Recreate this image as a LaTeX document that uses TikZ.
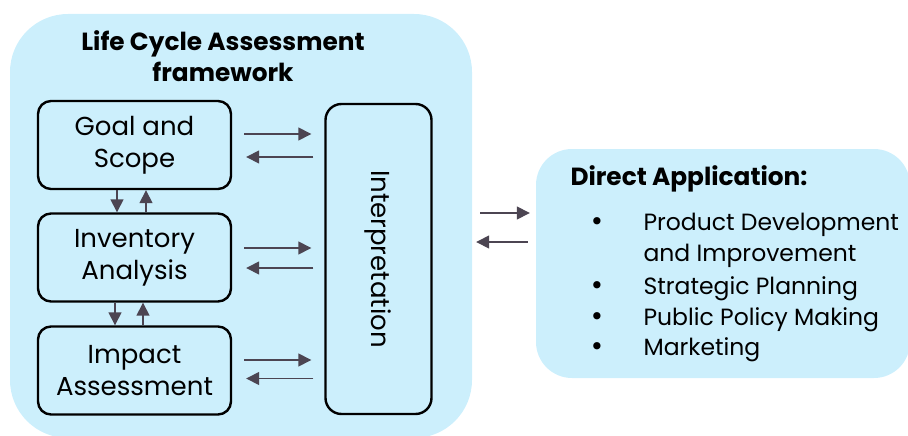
\documentclass[tikz,border=0pt]{standalone}
\usepackage{fontspec}
\setmainfont{Poppins}
\newfontfamily\dotfont{DejaVu Sans}
\usepackage{tikz}
\usetikzlibrary{arrows.meta}

\definecolor{lcablue}{RGB}{204,239,252}
\definecolor{flowgray}{RGB}{76,69,82}

\tikzset{
  panel/.style={fill=lcablue, rounded corners=58, inner sep=0},
  stagebox/.style={draw, line width=2.4, rounded corners=13, fill=lcablue, minimum width=193, minimum height=88, align=center, font=\fontsize{26}{32}\selectfont},
  flow/.style={-{Triangle[length=13,width=13]}, flowgray, line width=1.5},
  listtext/.style={anchor=base west, font=\fontsize{23.5}{28}\selectfont},
  dot/.style={anchor=base, inner sep=0, font=\dotfont\fontsize{25}{26}\selectfont},
}

\begin{document}
\begin{tikzpicture}[x=1pt, y=-1pt]
\useasboundingbox (0,0) rectangle (908,436);

% LCA framework panel
\node[panel, minimum width=462, minimum height=424] (lca) at (241,226) {};
\node[align=center, font=\fontsize{24.8}{31}\bfseries] (title) at (223,56) {Life Cycle Assessment\\framework};

% Stages
\node[stagebox] (goal) at (134.5,145) {Goal and\\Scope};
\node[stagebox] (inv) at (134.5,257.5) {Inventory\\Analysis};
\node[stagebox] (imp) at (134.5,370.5) {Impact\\Assessment};

% Interpretation
\node[draw, line width=2.4, rounded corners=16, fill=lcablue, minimum width=106, minimum height=310] (interp) at (378.5,259) {};
\node[rotate=-90, font=\fontsize{26}{28}\selectfont] (interplabel) at (interp.center) {Interpretation};

% Stage <-> interpretation arrows
\foreach \s/\up/\dn in {goal/11/-12, inv/9.5/-10.5, imp/10.5/-8} {
    \draw[flow, shorten <=12, shorten >=13] ([yshift=\up]\s.east) -- ([yshift=\up]\s.east -| interp.west);
    \draw[flow, shorten <=11, shorten >=14] ([yshift=\dn]\s.east -| interp.west) -- ([yshift=\dn]\s.east);
}

% Stage <-> stage arrows
\draw[flow] ([xshift=-17.5]goal.south) -- ([xshift=-17.5]inv.north);
\draw[flow] ([xshift=11.5]inv.north) -- ([xshift=11.5]goal.south);
\draw[flow] ([xshift=-19.5]inv.south) -- ([xshift=-19.5]imp.north);
\draw[flow] ([xshift=8.5]imp.north) -- ([xshift=8.5]inv.south);

% Direct application panel
\node[panel, rounded corners=36, minimum width=374, minimum height=229] (app) at (723,263.5) {};
\node[anchor=base west, font=\fontsize{24.8}{28}\bfseries] (apphead) at (567,185) {Direct Application:};

\node[dot] (b1) at (597,230.5) {•};
\node[listtext] (l1) at (640,230.5) {Product Development};
\node[listtext] (l2) at (640,261) {and Improvement};
\node[dot] (b3) at (597,294) {•};
\node[listtext] (l3) at (640,294) {Strategic Planning};
\node[dot] (b4) at (597,325) {•};
\node[listtext] (l4) at (640,325) {Public Policy Making};
\node[dot] (b5) at (597,355.5) {•};
\node[listtext] (l5) at (640,355.5) {Marketing};

% Panel <-> panel arrows
\draw[flow, shorten <=8, shorten >=6] ([yshift=50.5]app.west -| lca.east) -- ([yshift=50.5]app.west);
\draw[flow, shorten <=8, shorten >=4] ([yshift=21.5]app.west) -- ([yshift=21.5]app.west -| lca.east);

\end{tikzpicture}
\end{document}
